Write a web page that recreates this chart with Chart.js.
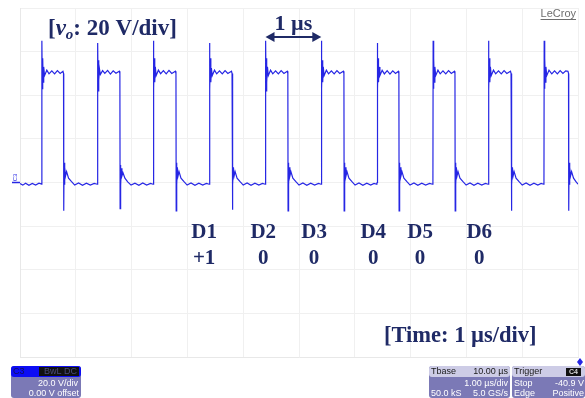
<!DOCTYPE html>
<html>
<head>
<meta charset="utf-8">
<script src="https://cdn.jsdelivr.net/npm/chart.js@4.4.1/dist/chart.umd.min.js"></script>
<style>
  html, body { margin: 0; padding: 0; background: #ffffff; }
  #scope { display: block; }
</style>
</head>
<body>
<canvas id="scope" width="585" height="398"></canvas>
<script>
// C3 trace, time in microseconds, amplitude in volts
var leadIn = [[0.000,-0.5],[0.050,-1.2],[0.100,-0.3],[0.160,-1.3],[0.220,-0.4],[0.280,-1.2],[0.340,-0.3],[0.388,-0.7]];
var period1 = [[0.390,0],[0.394,65],[0.400,43],[0.407,57],[0.415,46],[0.425,53],[0.440,49],[0.480,51.5],[0.520,49.8],[0.570,51.2],[0.620,49.8],[0.670,51.3],[0.720,50],[0.770,51],[0.780,50],[0.784,-13],[0.790,9],[0.797,-1],[0.805,7],[0.817,3],[0.835,5],[0.870,2],[0.920,0.5],[0.980,-1.2],[1.050,-0.2],[1.120,-1.3],[1.190,-0.3],[1.260,-1.2],[1.330,-0.4],[1.385,-0.8]];
var period2 = [[1.390,0],[1.394,64],[1.400,42],[1.407,56],[1.415,47],[1.425,52],[1.440,49.5],[1.480,51.3],[1.520,50],[1.570,51.4],[1.620,49.7],[1.670,51.2],[1.720,50.1],[1.780,51],[1.790,50],[1.794,-12],[1.800,8],[1.807,-1.5],[1.815,6.5],[1.827,3],[1.845,4.5],[1.880,2],[1.930,0.3],[1.990,-1.2],[2.060,-0.3],[2.130,-1.3],[2.200,-0.2],[2.270,-1.2],[2.340,-0.4],[2.385,-0.8]];
var period3 = [[2.390,0],[2.394,65],[2.400,43],[2.407,57],[2.415,46],[2.425,53],[2.440,49],[2.480,51.5],[2.520,49.9],[2.570,51.3],[2.620,49.8],[2.670,51.4],[2.720,50],[2.785,51],[2.795,50],[2.799,-13],[2.805,9],[2.812,-1],[2.820,7],[2.832,3],[2.850,5],[2.885,2],[2.935,0.5],[2.995,-1.2],[3.065,-0.2],[3.135,-1.3],[3.205,-0.3],[3.275,-1.2],[3.340,-0.4],[3.390,-0.8]];
var period4 = [[3.395,0],[3.399,64],[3.405,43],[3.412,57],[3.420,46],[3.430,52.5],[3.445,49],[3.485,51.5],[3.525,49.8],[3.575,51.2],[3.625,49.8],[3.675,51.3],[3.725,50],[3.790,51],[3.800,50],[3.804,-12.5],[3.810,9],[3.817,-1],[3.825,7],[3.837,3],[3.855,5],[3.890,2],[3.940,0.5],[4.000,-1.2],[4.070,-0.2],[4.140,-1.3],[4.210,-0.3],[4.280,-1.2],[4.345,-0.4],[4.395,-0.8]];
var period5 = [[4.400,0],[4.404,65],[4.410,42],[4.417,57],[4.425,46],[4.435,53],[4.450,49],[4.490,51.5],[4.530,49.8],[4.580,51.2],[4.630,49.8],[4.680,51.3],[4.730,50],[4.790,51],[4.800,50],[4.804,-13],[4.810,9],[4.817,-1],[4.825,7],[4.837,3],[4.855,5],[4.890,2],[4.940,0.5],[5.000,-1.2],[5.070,-0.2],[5.140,-1.3],[5.210,-0.3],[5.280,-1.2],[5.350,-0.4],[5.395,-0.8]];
var period6 = [[5.400,0],[5.404,65],[5.410,43],[5.417,56],[5.425,46],[5.435,53],[5.450,49],[5.490,51.5],[5.530,49.8],[5.580,51.2],[5.630,49.8],[5.680,51.3],[5.730,50],[5.795,51],[5.805,50],[5.809,-13],[5.815,9],[5.822,-1],[5.830,7],[5.842,3],[5.860,5],[5.895,2],[5.945,0.5],[6.005,-1.2],[6.075,-0.2],[6.145,-1.3],[6.215,-0.3],[6.285,-1.2],[6.345,-0.4],[6.395,-0.8]];
var period7 = [[6.400,0],[6.404,64],[6.410,43],[6.417,57],[6.425,46],[6.435,53],[6.450,49],[6.490,51.4],[6.530,49.8],[6.580,51.3],[6.630,49.7],[6.680,51.2],[6.730,50],[6.780,51],[6.790,50],[6.794,-13],[6.800,9],[6.807,-1],[6.815,7],[6.827,3],[6.845,5],[6.880,2],[6.930,0.5],[6.990,-1.2],[7.060,-0.2],[7.130,-1.3],[7.200,-0.3],[7.270,-1.2],[7.340,-0.4],[7.395,-0.8]];
var period8 = [[7.400,0],[7.404,65],[7.410,43],[7.417,57],[7.425,46],[7.435,53],[7.450,49],[7.490,51.5],[7.530,49.8],[7.580,51.2],[7.630,49.8],[7.680,51.3],[7.730,50],[7.785,51],[7.795,50],[7.799,-13],[7.805,9],[7.812,-1],[7.820,7],[7.832,3],[7.850,5],[7.885,2],[7.935,0.5],[7.995,-1.2],[8.065,-0.2],[8.135,-1.3],[8.205,-0.3],[8.275,-1.2],[8.340,-0.4],[8.390,-0.8]];
var period9 = [[8.395,0],[8.399,65],[8.405,43],[8.412,57],[8.420,46],[8.430,53],[8.445,49],[8.485,51.5],[8.525,49.8],[8.575,51.2],[8.625,49.8],[8.675,51.3],[8.725,50],[8.790,51],[8.800,50],[8.804,-13],[8.810,9],[8.817,-1],[8.825,7],[8.837,3],[8.855,5],[8.890,2],[8.940,0.5],[9.000,-1.2],[9.070,-0.2],[9.140,-1.3],[9.210,-0.3],[9.280,-1.2],[9.340,-0.4],[9.385,-0.8]];
var period10 = [[9.390,0],[9.394,65],[9.400,43],[9.407,57],[9.415,46],[9.425,53],[9.440,49],[9.480,51.5],[9.530,49.8],[9.580,51.2],[9.630,49.8],[9.680,51.3],[9.730,50],[9.780,51.2],[9.820,51],[9.830,50],[9.834,-13],[9.840,9],[9.847,-1],[9.855,7],[9.867,3],[9.885,5],[9.920,2],[9.960,0.5],[10.000,-0.8]];

// digit annotations under the pulses
var digitNames = ["D1", "D2", "D3", "D4", "D5", "D6"];
var digitLevels = ["+1", "0", "0", "0", "0", "0"];

// readout boxes under the grid
var channelReadout = ["C3", "BwL DC", "20.0 V/div", "0.00 V offset"];
var timebaseReadout = ["Tbase", "10.00 \u00B5s", "1.00 \u00B5s/div", "50.0 kS", "5.0 GS/s"];
var triggerReadout = ["Trigger", "C4", "Stop", "-40.9 V", "Edge", "Positive"];

var TRACE_BLUE = "#2626e4";
var INK = "#1f2a66";
var SERIF = '"Liberation Serif", "Times New Roman", serif';
var SANS = '"Liberation Sans", Arial, sans-serif';

function toPoints(rows) {
    return rows.map(function(r) { return { x: r[0], y: r[1] }; });
}

var tracePoints = [];
[leadIn, period1, period2, period3, period4, period5, period6, period7, period8, period9, period10].forEach(function(p) {
    tracePoints = tracePoints.concat(toPoints(p));
});

function roundBox(ctx, x, y, w, h, r, fill) {
    ctx.fillStyle = fill;
    ctx.beginPath();
    if (ctx.roundRect) {
        ctx.roundRect(x, y, w, h, r);
    } else {
        ctx.rect(x, y, w, h);
    }
    ctx.fill();
}

function arrowHead(ctx, x, y, dir) {
    ctx.beginPath();
    ctx.moveTo(x, y);
    ctx.lineTo(x - dir * 9, y - 5);
    ctx.lineTo(x - dir * 9, y + 5);
    ctx.closePath();
    ctx.fill();
}

var scopeDecor = {
    id: 'scopeDecor',
    afterDatasetsDraw: function(chart) {
        var ctx = chart.ctx;
        var xs = chart.scales.x;
        var ys = chart.scales.y;
        ctx.save();

        // vertical scale label
        var x = 48;
        var base = 35;
        ctx.fillStyle = INK;
        ctx.textBaseline = 'alphabetic';
        ctx.textAlign = 'left';
        ctx.font = 'bold 23px ' + SERIF;
        ctx.fillText("[", x, base);
        x += ctx.measureText("[").width;
        ctx.font = 'italic bold 23px ' + SERIF;
        ctx.fillText("v", x, base);
        x += ctx.measureText("v").width;
        ctx.font = 'italic bold 15px ' + SERIF;
        ctx.fillText("o", x, base + 4);
        x += ctx.measureText("o").width;
        ctx.font = 'bold 23px ' + SERIF;
        ctx.fillText(": 20 V/div]", x, base);

        // one-period marker between two rising edges
        var ax0 = xs.getPixelForValue(4.40);
        var ax1 = xs.getPixelForValue(5.40);
        var ay = 37;
        ctx.strokeStyle = INK;
        ctx.lineWidth = 2;
        ctx.beginPath();
        ctx.moveTo(ax0 + 4, ay);
        ctx.lineTo(ax1 - 4, ay);
        ctx.stroke();
        arrowHead(ctx, ax0, ay, -1);
        arrowHead(ctx, ax1, ay, 1);
        ctx.textAlign = 'center';
        ctx.font = 'bold 22px ' + SERIF;
        ctx.fillText("1 \u00B5s", (ax0 + ax1) / 2, 30);

        // digit row
        var digitAt = [3.30, 4.36, 5.27, 6.33, 7.17, 8.23];
        ctx.font = 'bold 21px ' + SERIF;
        for (var i = 0; i < digitNames.length; i++) {
            var dx = xs.getPixelForValue(digitAt[i]);
            ctx.fillText(digitNames[i], dx, 238);
            ctx.fillText(digitLevels[i], dx, 264);
        }

        ctx.textAlign = 'left';
        ctx.font = 'bold 22.5px ' + SERIF;
        ctx.fillText("[Time: 1 \u00B5s/div]", 384, 342);

        // LeCroy mark
        ctx.fillStyle = "#6e6e6e";
        ctx.font = '11px ' + SANS;
        ctx.textAlign = 'right';
        ctx.fillText("LeCroy", 576, 17);
        var lw = ctx.measureText("LeCroy").width;
        ctx.fillRect(576 - lw, 19, lw, 1);

        // channel marker on the zero level
        var zy = ys.getPixelForValue(0);
        ctx.strokeStyle = TRACE_BLUE;
        ctx.lineWidth = 1.5;
        ctx.beginPath();
        ctx.moveTo(12, zy);
        ctx.lineTo(20, zy);
        ctx.stroke();
        ctx.save();
        ctx.translate(15, zy - 5);
        ctx.rotate(-Math.PI / 2);
        ctx.fillStyle = TRACE_BLUE;
        ctx.font = '6px ' + SANS;
        ctx.textAlign = 'center';
        ctx.textBaseline = 'middle';
        ctx.fillText("C3", 0, 0);
        ctx.restore();

        // trigger position marker
        ctx.fillStyle = TRACE_BLUE;
        ctx.beginPath();
        ctx.moveTo(580, 358);
        ctx.lineTo(583, 362);
        ctx.lineTo(580, 366);
        ctx.lineTo(577, 362);
        ctx.closePath();
        ctx.fill();

        // readout boxes
        var body = "#7b79b6";
        var head = "#cdcce6";
        ctx.font = '9px ' + SANS;
        ctx.textBaseline = 'middle';

        roundBox(ctx, 11, 366, 70, 32, 3, body);
        roundBox(ctx, 11, 366, 70, 11, 3, "#0c0cf4");
        ctx.fillStyle = "#111111";
        ctx.fillRect(39, 367, 40, 9);
        ctx.textAlign = 'left';
        ctx.fillStyle = "#10105a";
        ctx.fillText(channelReadout[0], 13, 372);
        ctx.fillStyle = "#4a4a7a";
        ctx.textAlign = 'right';
        ctx.fillText(channelReadout[1], 77, 372);
        ctx.fillStyle = "#ffffff";
        ctx.fillText(channelReadout[2], 78, 383.5);
        ctx.fillText(channelReadout[3], 79, 393.5);

        roundBox(ctx, 429, 366, 81, 32, 3, body);
        roundBox(ctx, 429, 366, 81, 11, 3, head);
        ctx.fillStyle = "#1a1a1a";
        ctx.textAlign = 'left';
        ctx.fillText(timebaseReadout[0], 431, 372);
        ctx.textAlign = 'right';
        ctx.fillText(timebaseReadout[1], 508, 372);
        ctx.fillStyle = "#ffffff";
        ctx.fillText(timebaseReadout[2], 508, 383.5);
        ctx.textAlign = 'left';
        ctx.fillText(timebaseReadout[3], 431, 393.5);
        ctx.textAlign = 'right';
        ctx.fillText(timebaseReadout[4], 508, 393.5);

        roundBox(ctx, 512, 366, 73, 32, 3, body);
        roundBox(ctx, 512, 366, 73, 11, 3, head);
        ctx.fillStyle = "#111111";
        ctx.fillRect(566, 368, 15, 8);
        ctx.fillStyle = "#1a1a1a";
        ctx.textAlign = 'left';
        ctx.fillText(triggerReadout[0], 514, 372);
        ctx.fillStyle = "#d8d8d8";
        ctx.textAlign = 'center';
        ctx.font = 'bold 7px ' + SANS;
        ctx.fillText(triggerReadout[1], 573.5, 372);
        ctx.font = '9px ' + SANS;
        ctx.fillStyle = "#ffffff";
        ctx.textAlign = 'left';
        ctx.fillText(triggerReadout[2], 514, 383.5);
        ctx.fillText(triggerReadout[4], 514, 393.5);
        ctx.textAlign = 'right';
        ctx.fillText(triggerReadout[3], 584, 383.5);
        ctx.fillText(triggerReadout[5], 584, 393.5);

        ctx.restore();
    }
};

var ctx = document.getElementById("scope").getContext("2d");
var scopeChart = new Chart(ctx, {
    type: 'line',
    data: {
        datasets: [{
            label: 'C3',
            data: tracePoints,
            borderColor: TRACE_BLUE,
            borderWidth: 1.2,
            pointRadius: 0,
            tension: 0,
            fill: false
        }]
    },
    options: {
        responsive: false,
        animation: false,
        events: [],
        layout: {
            padding: { left: 20, right: 7, top: 8, bottom: 41 }
        },
        plugins: {
            legend: { display: false },
            tooltip: { enabled: false }
        },
        scales: {
            x: {
                type: 'linear',
                min: 0,
                max: 10,
                ticks: { display: false, stepSize: 1 },
                grid: { color: '#f0f0f0', drawTicks: false },
                border: { color: '#e8e8e8' },
                afterFit: function(scale) { scale.height = 0; }
            },
            y: {
                min: -80,
                max: 80,
                ticks: { display: false, stepSize: 20 },
                grid: { color: '#f0f0f0', drawTicks: false },
                border: { color: '#e8e8e8' },
                afterFit: function(scale) { scale.width = 0; }
            }
        }
    },
    plugins: [scopeDecor]
});
</script>
</body>
</html>
